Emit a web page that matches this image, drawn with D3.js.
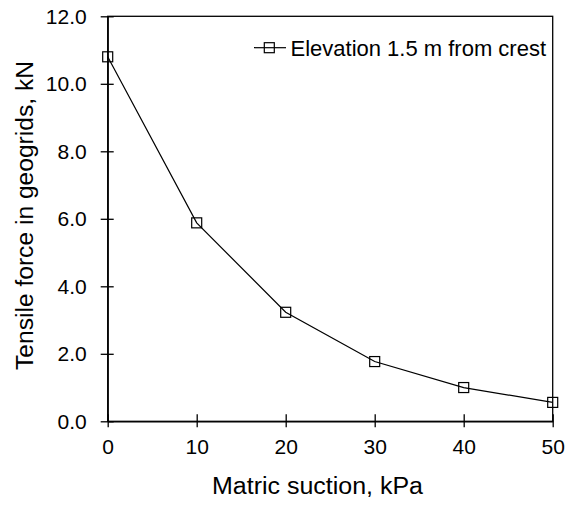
<!DOCTYPE html>
<html>
<head>
<meta charset="utf-8">
<script src="https://cdn.jsdelivr.net/npm/d3@7"></script>
<style>
body { margin: 0; background: #fff; }
svg { display: block; font-family: "Liberation Sans", Arial, sans-serif; }
</style>
</head>
<body>
<svg id="chart" width="575" height="506"></svg>
<script>
const suction = [0, 10, 20, 30, 40, 50];
const force = [10.8, 5.88, 3.23, 1.77, 1.0, 0.56];
const xTicks = [0, 10, 20, 30, 40, 50];
const yTicks = [0, 2, 4, 6, 8, 10, 12];
const seriesName = "Elevation 1.5 m from crest";
const xTitle = "Matric suction, kPa";
const yTitle = "Tensile force in geogrids, kN";

const svg = d3.select("#chart");
const L = 107.7, R = 552.7, T = 16.3, B = 421.3;
const x = d3.scaleLinear().domain([0, 50]).range([L, R]);
const y = d3.scaleLinear().domain([0, 12]).range([B, T]);

// frame
svg.append("rect").attr("x", L).attr("y", T).attr("width", R - L).attr("height", B - T)
  .attr("fill", "none").attr("stroke", "#000").attr("stroke-width", 1.3);

// y axis
const yAxis = svg.append("g").attr("transform", `translate(${L},0)`)
  .call(d3.axisLeft(y).tickValues(yTicks).tickFormat(d3.format(".1f")).tickSizeInner(7).tickSizeOuter(0).tickPadding(14));
yAxis.select(".domain").attr("stroke-width", 1.3);
yAxis.selectAll(".tick line").attr("stroke-width", 1.3).attr("x2", 6).attr("x1", -7);
yAxis.selectAll(".tick text").attr("font-size", 21).attr("fill", "#000").attr("font-family", "Liberation Sans, Arial, sans-serif");

// x axis
const xAxis = svg.append("g").attr("transform", `translate(0,${B})`)
  .call(d3.axisBottom(x).tickValues(xTicks).tickFormat(d3.format("d")).tickSizeInner(6).tickSizeOuter(0).tickPadding(12));
xAxis.select(".domain").attr("stroke-width", 1.3);
xAxis.selectAll(".tick line").attr("stroke-width", 1.3).attr("y1", -7).attr("y2", 6);
xAxis.selectAll(".tick text").attr("font-size", 21).attr("fill", "#000").attr("font-family", "Liberation Sans, Arial, sans-serif");

// line
const pts = suction.map((s, i) => [s, force[i]]);
const line = d3.line().x(d => x(d[0])).y(d => y(d[1]));
svg.append("path").datum(pts).attr("d", line).attr("fill", "none").attr("stroke", "#000").attr("stroke-width", 1.2);

// markers
const ms = 10;
svg.selectAll("rect.m").data(pts).enter().append("rect").attr("class", "m")
  .attr("x", d => x(d[0]) - ms / 2).attr("y", d => y(d[1]) - ms / 2)
  .attr("width", ms).attr("height", ms)
  .attr("fill", "none").attr("stroke", "#000").attr("stroke-width", 1.2);

// legend
const lg = svg.append("g");
lg.append("line").attr("x1", 254).attr("x2", 286).attr("y1", 47.7).attr("y2", 47.7).attr("stroke", "#000").attr("stroke-width", 1.2);
lg.append("rect").attr("x", 269.3 - ms / 2).attr("y", 47.7 - ms / 2).attr("width", ms).attr("height", ms)
  .attr("fill", "none").attr("stroke", "#000").attr("stroke-width", 1.2);
lg.append("text").attr("x", 290.5).attr("y", 55.5).attr("font-size", 22).text(seriesName);

// titles
svg.append("text").attr("x", 317.5).attr("y", 494).attr("text-anchor", "middle").attr("font-size", 23)
  .attr("textLength", 211).attr("lengthAdjust", "spacingAndGlyphs").text(xTitle);
svg.append("text").attr("transform", "translate(33,215.5) rotate(-90)").attr("text-anchor", "middle").attr("font-size", 23)
  .attr("textLength", 309).attr("lengthAdjust", "spacingAndGlyphs").text(yTitle);
</script>
</body>
</html>
